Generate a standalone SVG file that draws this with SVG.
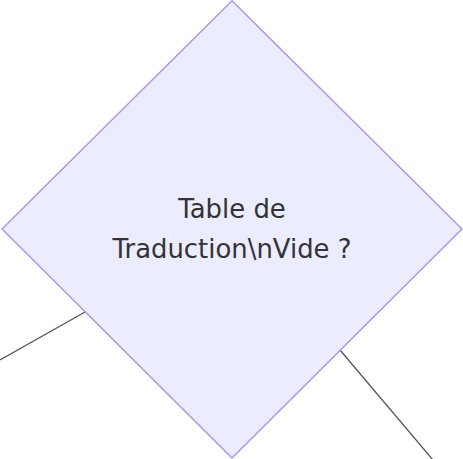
<svg xmlns="http://www.w3.org/2000/svg" width="463" height="459" viewBox="0 0 463 459">
<style>
.edge{fill:none;stroke:#555;stroke-width:1.3}
.decision{fill:#ECECFF;stroke:#A894E8;stroke-width:1.4}
.label{font-family:"DejaVu Sans",Verdana,sans-serif;font-size:25.9px;fill:#333;text-anchor:middle}
</style>
<rect width="463" height="459" fill="#fff"/>
<g id="connectors">
<line class="edge" x1="0" y1="360" x2="85" y2="312"/>
<line class="edge" x1="340" y1="350" x2="433" y2="460"/>
</g>
<g id="node-table-vide">
<polygon class="decision" points="232,0.8 462,229 232,458 2,229"/>
<text class="label" x="232" y="218">Table de</text>
<text class="label" x="232" y="258">Traduction\nVide ?</text>
</g>
</svg>
